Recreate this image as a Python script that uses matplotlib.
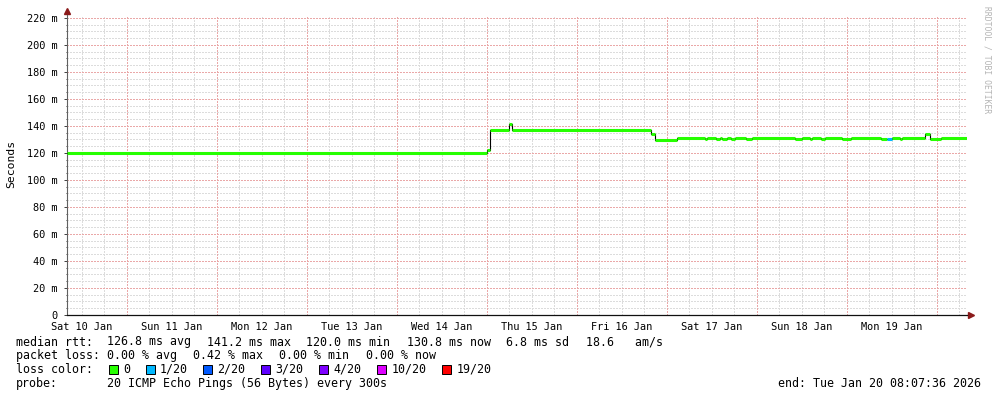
import matplotlib
matplotlib.use("Agg")
import matplotlib.pyplot as plt
import matplotlib.dates as mdates
from matplotlib.patches import Rectangle
import pandas as pd

# ---------------- data ----------------
end_time = "2026-01-20 08:07:36"
seg_start = [
    "2026-01-10 08:07:36", "2026-01-15 00:00", "2026-01-15 01:00", "2026-01-15 06:00",
    "2026-01-15 06:45", "2026-01-16 19:50", "2026-01-16 21:00", "2026-01-17 02:50",
    "2026-01-17 10:10", "2026-01-17 10:55", "2026-01-17 13:05", "2026-01-17 14:10",
    "2026-01-17 14:55", "2026-01-17 16:00", "2026-01-17 17:05", "2026-01-17 18:10",
    "2026-01-17 21:05", "2026-01-17 22:55",
    "2026-01-18 10:10", "2026-01-18 12:00", "2026-01-18 14:10", "2026-01-18 14:55",
    "2026-01-18 17:05", "2026-01-18 18:10", "2026-01-18 22:55", "2026-01-19 01:05",
    "2026-01-19 09:05", "2026-01-19 10:55", "2026-01-19 12:00", "2026-01-19 14:10",
    "2026-01-19 14:55", "2026-01-19 20:55", "2026-01-19 22:10", "2026-01-20 01:05",
]
median_ms = [
    120.0, 122.0, 137.0, 141.2, 137.0, 134.0, 129.7, 130.8,
    130.0, 130.8, 130.0, 130.8, 130.0, 130.8, 130.0, 130.8, 130.0, 130.8,
    130.0, 130.8, 130.0, 130.8, 130.0, 130.8, 130.0, 130.8,
    130.0, 130.0, 130.8, 130.0, 130.8, 134.0, 130.0, 130.8,
]
loss_idx = [0] * 27 + [1] + [0] * 6

loss_labels = ["0", "1/20", "2/20", "3/20", "4/20", "10/20", "19/20"]
loss_colors = ["#26ff00", "#00b8ff", "#0059ff", "#5e00ff", "#7e00ff", "#dd00ff", "#ff0000"]

y_ticks = [0, 20, 40, 60, 80, 100, 120, 140, 160, 180, 200, 220]

stats_rtt = ["126.8 ms avg", "141.2 ms max", "120.0 ms min", "130.8 ms now", "6.8 ms sd", "18.6   am/s"]
stats_loss = ["0.00 % avg", "0.42 % max", "0.00 % min", "0.00 % now"]
probe_text = "20 ICMP Echo Pings (56 Bytes) every 300s"
end_text = "end: Tue Jan 20 08:07:36 2026"

# ---------------- figure ----------------
W, H = 997, 397
fig = plt.figure(figsize=(W / 100, H / 100), dpi=100)
fig.patch.set_facecolor("white")
MONO = "DejaVu Sans Mono"

ax = fig.add_axes([67 / W, (H - 315) / H, 900 / W, 300 / H])
t_end = pd.Timestamp(end_time)
t_start = t_end - pd.Timedelta(days=10)
ax.set_xlim(t_start, t_end)
ax.set_ylim(0, 222.2)

minor_c = "#dcdcdc"
major_c = "#eaa8a8"
dot = (0, (1, 1))
gkw = dict(linestyle=dot, linewidth=1.0, antialiased=False)
# grid
ax.set_yticks(y_ticks)
ax.set_yticks([v for v in range(0, 225, 5) if v % 20], minor=True)
ax.grid(which="minor", axis="y", color=minor_c, **gkw)
ax.grid(which="major", axis="y", color=major_c, **gkw)

ax.xaxis.set_major_locator(mdates.HourLocator(byhour=[12]))
ax.xaxis.set_major_formatter(mdates.DateFormatter("%a %d %b"))
ax.xaxis.set_minor_locator(mdates.HourLocator(byhour=[6, 12, 18]))
ax.xaxis.remove_overlapping_locs = False
ax.grid(which="minor", axis="x", color=minor_c, **gkw)
for d in pd.date_range("2026-01-11", "2026-01-20", freq="D"):
    ax.axvline(d, color=major_c, zorder=0.6, **gkw)
ax.set_axisbelow(True)

ax.set_yticklabels([("0" if v == 0 else f"{v} m") for v in y_ticks], fontfamily=MONO, fontsize=7.4)
ax.tick_params(axis="y", which="major", length=2, width=0.7, pad=4.5, color="#404040")
ax.tick_params(axis="y", which="minor", length=1, width=0.7, color="#404040")
ax.tick_params(axis="x", which="both", length=0, pad=5)
for lab in ax.get_xticklabels():
    lab.set_fontfamily(MONO)
    lab.set_fontsize(7.4)

for s in ["top", "right"]:
    ax.spines[s].set_visible(False)
ax.spines["left"].set_color("#606060")
ax.spines["bottom"].set_color("#101010")
ax.spines["left"].set_linewidth(0.8)
ax.spines["bottom"].set_linewidth(0.9)

# arrows
arrow_c = "#8b1a1a"
ax.plot([1.0 + 4 / 900], [0], marker=">", markersize=4, color=arrow_c, transform=ax.transAxes, clip_on=False)
ax.plot([0], [1.0 + 4 / 300], marker="^", markersize=4, color=arrow_c, transform=ax.transAxes, clip_on=False)

# ---------------- median line ----------------
times = [pd.Timestamp(t) for t in seg_start] + [t_end]
vals = median_ms + [median_ms[-1]]
ax.step(times, vals, where="post", color="black", linewidth=0.8, zorder=3)
for i in range(len(seg_start)):
    ax.hlines(median_ms[i], times[i], times[i + 1], color=loss_colors[loss_idx[i]],
              linewidth=2.2, zorder=4)

# ---------------- labels ----------------
fig.text(11 / W, 1 - 164 / H, "Seconds", rotation=90, ha="center", va="center",
         fontfamily=MONO, fontsize=8.2)
fig.text(987 / W, 1 - 60 / H, "RRDTOOL / TOBI OETIKER", rotation=270, ha="center", va="center",
         fontfamily=MONO, fontsize=5.8, color="#b4b4b4")

fs = 8.4
def ftext(x, y, s):
    fig.text(x / W, 1 - y / H, s, ha="left", va="baseline", fontfamily=MONO, fontsize=fs)

ftext(16, 345.5, "median rtt:")
for x, s in zip([107, 207, 306.5, 407, 506.5, 586], stats_rtt):
    ftext(x, 345.5, s)
ftext(16, 359.2, "packet loss:")
for x, s in zip([107, 193, 279, 365.5], stats_loss):
    ftext(x, 359.2, s)
ftext(16, 373, "loss color:")
box_x = [108.5, 145.5, 203, 261, 319, 377, 442]
for bx, lab, c in zip(box_x, loss_labels, loss_colors):
    fig.add_artist(Rectangle((bx / W, 1 - 373.5 / H), 9 / W, 9 / H, transform=fig.transFigure,
                             facecolor=c, edgecolor="black", linewidth=0.7))
    ftext(bx + 14.5, 373, lab)
ftext(16, 386.8, "probe:")
ftext(107, 386.8, probe_text)
ftext(778, 386.8, end_text)

fig.savefig("out.png", dpi=100, facecolor="white")
